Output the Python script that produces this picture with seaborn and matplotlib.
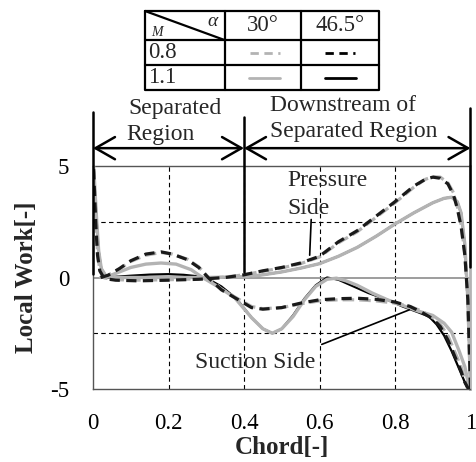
import matplotlib
matplotlib.use("Agg")
import matplotlib.pyplot as plt
import seaborn as sns
import pandas as pd

# ---------------- data ----------------
# M=0.8, alpha=46.5 (black dashed)
bd_px = [0.0, 0.004, 0.008, 0.012, 0.018, 0.03, 0.06, 0.12, 0.2, 0.28, 0.35, 0.4, 0.45, 0.5, 0.55, 0.6, 0.65, 0.7, 0.75, 0.8, 0.85, 0.88, 0.9, 0.92, 0.94, 0.955, 0.965, 0.975, 0.985, 0.993, 1.0]
bd_py = [5.6, 3.8, 2.2, 1.0, 0.3, -0.05, -0.12, -0.15, -0.12, -0.08, 0.0, 0.12, 0.3, 0.45, 0.65, 0.95, 1.6, 2.1, 2.75, 3.4, 4.1, 4.4, 4.5, 4.45, 4.2, 3.7, 3.1, 2.3, 1.0, -1.0, -5.0]
bd_sx = [0.02, 0.04, 0.07, 0.1, 0.14, 0.18, 0.21, 0.25, 0.28, 0.305, 0.34, 0.37, 0.42, 0.45, 0.5, 0.55, 0.6, 0.65, 0.7, 0.75, 0.8, 0.84, 0.87, 0.9, 0.92, 0.94, 0.96, 0.975, 0.985, 0.993, 1.0]
bd_sy = [0.0, 0.1, 0.4, 0.75, 1.05, 1.15, 1.05, 0.8, 0.45, 0.0, -0.55, -0.85, -1.35, -1.42, -1.35, -1.15, -1.0, -0.95, -0.93, -0.98, -1.1, -1.3, -1.55, -1.85, -2.2, -2.8, -3.6, -4.2, -4.7, -4.95, -5.0]

# M=0.8, alpha=30 (grey dashed)
gd_px = [0.0, 0.004, 0.008, 0.012, 0.018, 0.03, 0.06, 0.12, 0.2, 0.28, 0.35, 0.4, 0.45, 0.5, 0.55, 0.6, 0.65, 0.7, 0.75, 0.8, 0.85, 0.88, 0.9, 0.92, 0.94, 0.955, 0.965, 0.975, 0.985, 0.993, 1.0]
gd_py = [5.5, 3.9, 2.4, 1.1, 0.35, -0.02, -0.1, -0.12, -0.1, -0.06, 0.02, 0.12, 0.28, 0.43, 0.62, 0.92, 1.55, 2.05, 2.7, 3.35, 4.05, 4.4, 4.52, 4.5, 4.25, 3.8, 3.2, 2.4, 1.1, -1.0, -5.0]
gd_sx = [0.02, 0.04, 0.07, 0.1, 0.14, 0.18, 0.21, 0.25, 0.28, 0.305, 0.34, 0.37, 0.42, 0.45, 0.5, 0.55, 0.6, 0.65, 0.7, 0.75, 0.8, 0.84, 0.87, 0.9, 0.92, 0.94, 0.96, 0.975, 0.985, 0.993, 1.0]
gd_sy = [0.0, 0.1, 0.38, 0.72, 1.0, 1.12, 1.05, 0.82, 0.48, 0.02, -0.52, -0.82, -1.3, -1.4, -1.35, -1.18, -1.05, -1.0, -1.0, -1.05, -1.15, -1.3, -1.5, -1.8, -2.1, -2.6, -3.4, -4.0, -4.6, -4.95, -5.0]

# M=1.1, alpha=30 (grey solid)
gs_px = [0.0, 0.005, 0.01, 0.015, 0.022, 0.035, 0.06, 0.12, 0.2, 0.3, 0.4, 0.45, 0.5, 0.55, 0.6, 0.65, 0.7, 0.75, 0.8, 0.85, 0.9, 0.93, 0.95, 0.965, 0.975, 0.985, 0.993, 1.0]
gs_py = [5.5, 4.0, 2.5, 1.2, 0.4, 0.05, 0.0, 0.0, 0.0, 0.0, 0.03, 0.12, 0.25, 0.42, 0.62, 0.95, 1.35, 1.85, 2.4, 2.9, 3.35, 3.55, 3.6, 3.4, 2.9, 1.5, -1.0, -5.0]
gs_sx = [0.02, 0.04, 0.07, 0.1, 0.14, 0.18, 0.22, 0.26, 0.29, 0.33, 0.375, 0.42, 0.45, 0.475, 0.5, 0.53, 0.56, 0.59, 0.62, 0.645, 0.67, 0.7, 0.74, 0.78, 0.82, 0.86, 0.9, 0.93, 0.95, 0.97, 0.985, 0.995, 1.0]
gs_sy = [0.0, 0.05, 0.25, 0.45, 0.6, 0.65, 0.6, 0.35, 0.0, -0.4, -0.9, -1.8, -2.3, -2.5, -2.3, -1.75, -1.0, -0.4, -0.08, -0.03, -0.15, -0.35, -0.7, -1.0, -1.25, -1.5, -1.7, -2.05, -2.45, -3.3, -4.0, -4.8, -5.0]

# M=1.1, alpha=46.5 (black solid)
bs_px = [0.0, 0.005, 0.01, 0.015, 0.022, 0.035, 0.06, 0.12, 0.2, 0.3, 0.4, 0.45, 0.5, 0.55, 0.6, 0.65, 0.7, 0.75, 0.8, 0.85, 0.9, 0.93, 0.95, 0.965, 0.975, 0.985, 0.993, 1.0]
bs_py = [5.5, 4.0, 2.5, 1.2, 0.4, 0.05, 0.0, 0.0, 0.0, 0.0, 0.03, 0.12, 0.25, 0.42, 0.62, 0.95, 1.35, 1.85, 2.4, 2.9, 3.35, 3.55, 3.6, 3.4, 2.9, 1.5, -1.0, -5.0]
bs_sx = [0.02, 0.05, 0.1, 0.15, 0.2, 0.24, 0.28, 0.3, 0.34, 0.38, 0.42, 0.45, 0.475, 0.5, 0.53, 0.56, 0.59, 0.62, 0.65, 0.69, 0.73, 0.78, 0.82, 0.86, 0.89, 0.91, 0.93, 0.95, 0.965, 0.98, 0.99, 1.0]
bs_sy = [0.0, 0.02, 0.08, 0.13, 0.15, 0.12, 0.05, -0.02, -0.4, -0.95, -1.8, -2.3, -2.5, -2.3, -1.7, -0.95, -0.35, 0.0, -0.1, -0.4, -0.7, -1.0, -1.3, -1.55, -1.75, -2.1, -2.6, -3.3, -3.9, -4.5, -4.9, -5.0]

x_ticks = [0, 0.2, 0.4, 0.6, 0.8, 1.0]
x_ticklabels = ["0", "0.2", "0.4", "0.6", "0.8", "1"]
y_ticks = [-5, 0, 5]
y_ticklabels = ["-5", "0", "5"]
mach_labels = ["0.8", "1.1"]
alpha_labels = ["30°", "46.5°"]

# ---------------- figure ----------------
sns.set_theme(style="white")
plt.rcParams["font.family"] = ["Liberation Serif", "DejaVu Serif"]

W, H = 476, 462
fig = plt.figure(figsize=(W / 100, H / 100), dpi=100)
ax = fig.add_axes([93 / W, (H - 389) / H, 377.5 / W, 223 / H])

GREY = "#b3b3b3"
series = [
    (bs_px, bs_py, bs_sx, bs_sy, "black", "-", 1.6),
    (gs_px, gs_py, gs_sx, gs_sy, GREY, "-", 2.4),
    (gd_px, gd_py, gd_sx, gd_sy, GREY, "--", 2.3),
    (bd_px, bd_py, bd_sx, bd_sy, "#1a1a1a", "--", 2.3),
]

# grid
for gx in [0.2, 0.4, 0.6, 0.8]:
    ax.axvline(gx, color="black", lw=0.8, ls=(0, (4, 3)), zorder=1)
for gy in [2.5, -2.5]:
    ax.axhline(gy, color="black", lw=0.8, ls=(0, (4, 3)), zorder=1)
ax.axhline(0, color="#8c8c8c", lw=1.2, zorder=1)

for i, (px, py, sx, sy, c, ls, lw) in enumerate(series):
    for xs, ys in [(px, py), (sx, sy)]:
        df = pd.DataFrame({"x": xs, "y": ys})
        sns.lineplot(data=df, x="x", y="y", sort=False, estimator=None,
                     color=c, lw=lw, ax=ax, zorder=3 + i)
        l = ax.lines[-1]
        if ls == "--":
            l.set_dash_capstyle("butt")
            if c == GREY:
                l.set_dashes((3.6, 1.6))
            else:
                l.set_dashes((3.2, 2.0))

ax.set_xlim(0, 1)
ax.set_ylim(-5, 5)
ax.set_xticks(x_ticks)
ax.set_xticklabels(x_ticklabels)
ax.set_yticks(y_ticks)
ax.set_yticklabels(y_ticklabels)
ax.tick_params(length=0, labelsize=16.5, colors="black")
ax.tick_params(axis="x", pad=17)
ax.tick_params(axis="y", pad=17)
for s in ax.spines.values():
    s.set_color("#555555")
    s.set_linewidth(1.0)
ax.spines["right"].set_color(GREY)
ax.spines["right"].set_linewidth(2)
ax.set_xlabel("Chord[-]", fontsize=18, fontweight="bold", labelpad=2)
ax.set_ylabel("Local Work[-]", fontsize=18, fontweight="bold", labelpad=9)

# region annotations (above the axes)
for vx, top, bot in [(0.0, 7.4, 0.15), (0.4, 7.2, 0.25), (1.0, 7.6, 0.47)]:
    ax.plot([vx, vx], [bot, top], color="black", lw=1.8, clip_on=False, zorder=10)
arrow_kw = dict(arrowstyle="<->,head_length=0.7,head_width=0.4", color="black", lw=1.8,
                shrinkA=0, shrinkB=0, mutation_scale=20)
ax.annotate("", xy=(0.0, 5.8), xytext=(0.4, 5.8), arrowprops=arrow_kw, annotation_clip=False)
ax.annotate("", xy=(0.4, 5.8), xytext=(1.0, 5.8), arrowprops=arrow_kw, annotation_clip=False)
tk = dict(fontsize=17, ha="center", va="center", clip_on=False, zorder=11)
ax.text(0.217, 7.6, "Separated", **tk)
ax.text(0.18, 6.4, "Region", **tk)
ax.text(0.662, 7.73, "Downstream of", **tk)
ax.text(0.69, 6.54, "Separated Region", **tk)
ax.text(0.621, 4.37, "Pressure", **tk)
ax.text(0.57, 3.1, "Side", **tk)
ax.text(0.429, -3.83, "Suction Side", **tk)
ax.plot([0.578, 0.574], [2.6, 1.0], color="black", lw=1.2, zorder=12)
ax.plot([0.606, 0.838], [-3.0, -1.45], color="black", lw=1.2, zorder=12)

# legend table (figure pixel overlay)
tax = fig.add_axes([0, 0, 1, 1])
tax.set_xlim(0, W)
tax.set_ylim(H, 0)
tax.axis("off")
L, R, T, B = 145, 379, 11, 90
c1, c2 = 224.5, 301
r1, r2 = 40, 65
kw = dict(color="black", lw=1.6)
tax.plot([L, R, R, L, L], [T, T, B, B, T], **kw)
tax.plot([c1, c1], [T, B], **kw)
tax.plot([c2, c2], [T, B], **kw)
tax.plot([L, R], [r1, r1], **kw)
tax.plot([L, R], [r2, r2], **kw)
tax.plot([L, c1], [T, r1], **kw)
tax.text(213, 21, "α", fontsize=14, style="italic", ha="center", va="center")
tax.text(157, 33, "M", fontsize=10, style="italic", ha="center", va="center")
tax.text((c1 + c2) / 2, 25.5, alpha_labels[0], fontsize=16.5, ha="center", va="center")
tax.text((c2 + R) / 2, 25.5, alpha_labels[1], fontsize=16.5, ha="center", va="center")
tax.text(148, 52.5, mach_labels[0], fontsize=16.5, ha="left", va="center")
tax.text(148, 77.5, mach_labels[1], fontsize=16.5, ha="left", va="center")
tax.plot([250, 280], [53, 53], color=GREY, lw=2, dashes=(3, 2))
tax.plot([325, 355], [53, 53], color="black", lw=2, dashes=(3, 2))
tax.plot([249, 280], [77.5, 77.5], color=GREY, lw=2)
tax.plot([325, 356], [77.5, 77.5], color="black", lw=2)

fig.savefig("out.png", dpi=100)
